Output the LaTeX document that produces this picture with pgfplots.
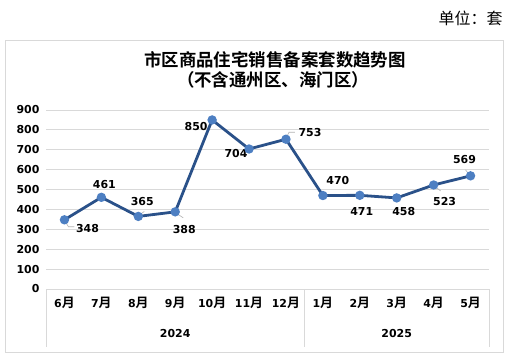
\documentclass[border=0pt]{standalone}
\usepackage{pgfplots}
\pgfplotsset{compat=1.18}
\usepackage{fontspec}
\setmainfont{DejaVu Sans}
\newfontfamily\numb{DejaVu Sans Bold}
\newfontfamily\cjkb{Noto Sans CJK SC Bold}
\newfontfamily\cjk{Noto Sans CJK SC}
\definecolor{lineblue}{HTML}{2A5189}
\definecolor{markblue}{HTML}{4D7FC2}
\definecolor{gridgray}{HTML}{D9D9D9}
\newcommand\m[1]{{\numb\fontsize{11}{12}\selectfont #1}{\cjkb\fontsize{13}{14}\selectfont 月}}
\begin{document}
\begin{tikzpicture}[x=1bp,y=1bp]
\path[use as bounding box] (0,0) rectangle (508,356);
\node[anchor=east,font=\cjk\fontsize{16}{18}\selectfont] at (506,338) {单位：套};
\draw[gridgray,line width=0.8bp] (5,4) rectangle (503,316);
\node[font=\cjkb\fontsize{17.5}{20}\selectfont,align=center] at (275,296) {市区商品住宅销售备案套数趋势图};
\node[font=\cjkb\fontsize{17.5}{20}\selectfont,align=center] at (273,276) {（不含通州区、海门区）};
\draw[gridgray,line width=0.8bp] (46,67) -- (46,9);
\draw[gridgray,line width=0.8bp] (304,67) -- (304,9);
\draw[gridgray,line width=0.8bp] (489,67) -- (489,9);
\begin{axis}[
  at={(46bp,67bp)}, anchor=south west,
  scale only axis, width=443bp, height=179bp,
  xmin=-0.5, xmax=11.5, ymin=0, ymax=900,
  ytick={0,100,...,900},
  xtick={0,...,11},
  xticklabels={\m{6},\m{7},\m{8},\m{9},\m{10},\m{11},\m{12},\m{1},\m{2},\m{3},\m{4},\m{5}},
  axis line style={draw=none},
  major tick length=0pt,
  ymajorgrids, grid style={gridgray,line width=0.8bp},
  /pgf/number format/assume math mode=true,
  yticklabel style={font=\numb\fontsize{11}{12}\selectfont},
  yticklabel style={xshift=-3bp},
  xticklabel style={yshift=-5bp},
  clip=false,
]
\addplot[lineblue, line width=2.8bp, mark=*, mark size=3.2bp, mark options={fill=markblue,draw=markblue}]
  coordinates {(0,348) (1,461) (2,365) (3,388) (4,850) (5,704) (6,753) (7,470) (8,471) (9,458) (10,523) (11,569)};
\tikzset{dl/.style={font=\numb\fontsize{11}{12}\selectfont}}
\node[dl,xshift=23bp,yshift=-9bp] at (axis cs:0,348) {348};
\node[dl,xshift=3bp,yshift=13bp] at (axis cs:1,461) {461};
\node[dl,xshift=4bp,yshift=15bp] at (axis cs:2,365) {365};
\node[dl,xshift=9bp,yshift=-18bp] at (axis cs:3,388) {388};
\node[dl,xshift=-16bp,yshift=-7bp] at (axis cs:4,850) {850};
\node[dl,xshift=-13bp,yshift=-5bp] at (axis cs:5,704) {704};
\node[dl,xshift=24bp,yshift=7bp] at (axis cs:6,753) {753};
\node[dl,xshift=15bp,yshift=15bp] at (axis cs:7,470) {470};
\node[dl,xshift=2bp,yshift=-16bp] at (axis cs:8,471) {471};
\node[dl,xshift=7bp,yshift=-14bp] at (axis cs:9,458) {458};
\node[dl,xshift=11bp,yshift=-17bp] at (axis cs:10,523) {523};
\node[dl,xshift=-6bp,yshift=16bp] at (axis cs:11,569) {569};
\draw[gray!60,line width=0.6bp] ([xshift=1bp,yshift=-2bp]axis cs:0,348) -- ([xshift=4bp,yshift=-7bp]axis cs:0,348) -- ([xshift=10bp,yshift=-7bp]axis cs:0,348);
\draw[gray!60,line width=0.6bp] ([xshift=2bp,yshift=-2bp]axis cs:3,388) -- ([xshift=8bp,yshift=-6bp]axis cs:3,388);
\draw[gray!60,line width=0.6bp] ([xshift=2bp,yshift=2bp]axis cs:2,365) -- ([xshift=6bp,yshift=5bp]axis cs:2,365);
\draw[gray!60,line width=0.6bp] ([xshift=1bp,yshift=3bp]axis cs:6,753) -- ([xshift=3bp,yshift=7bp]axis cs:6,753) -- ([xshift=9bp,yshift=7bp]axis cs:6,753);
\draw[gray!60,line width=0.6bp] ([xshift=2bp,yshift=-2bp]axis cs:10,523) -- ([xshift=7bp,yshift=-6bp]axis cs:10,523);
\draw[gray!60,line width=0.6bp] ([xshift=-2bp,yshift=2bp]axis cs:11,569) -- ([xshift=-5bp,yshift=6bp]axis cs:11,569);
\node[font=\numb\fontsize{11}{12}\selectfont] at (axis cs:3,0) [yshift=-45bp] {2024};
\node[font=\numb\fontsize{11}{12}\selectfont] at (axis cs:9,0) [yshift=-45bp] {2025};
\end{axis}
\end{tikzpicture}
\end{document}
